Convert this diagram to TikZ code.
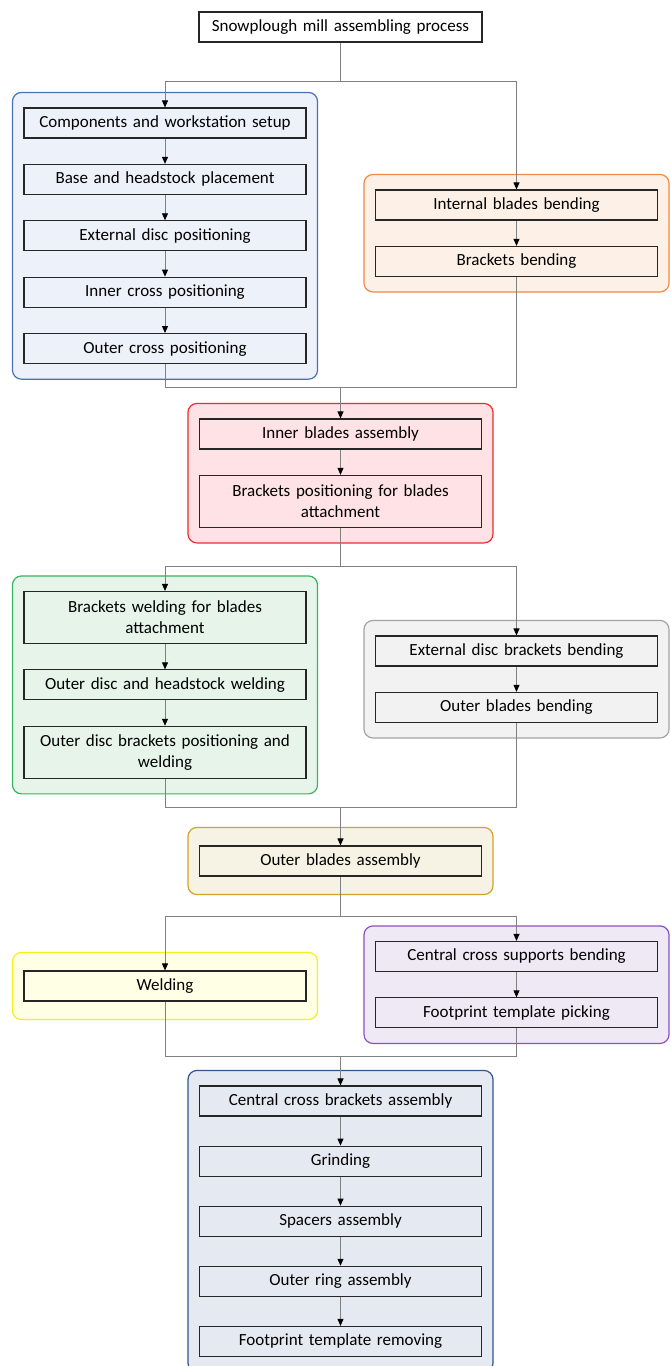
\documentclass[tikz,border=0pt]{standalone}
\usepackage{fontspec}
\setmainfont{Carlito}
\usetikzlibrary{positioning, fit, backgrounds, arrows.meta}
\definecolor{bluedraw}{HTML}{4A6FB5}
\definecolor{bluefill}{HTML}{EDF1FA}
\definecolor{orangedraw}{HTML}{EE8A45}
\definecolor{orangefill}{HTML}{FDF0E6}
\definecolor{reddraw}{HTML}{F02B2B}
\definecolor{redfill}{HTML}{FFE2E5}
\definecolor{greendraw}{HTML}{36B55E}
\definecolor{greenfill}{HTML}{E6F4EA}
\definecolor{greydraw}{HTML}{A3A3A3}
\definecolor{greyfill}{HTML}{F2F2F2}
\definecolor{golddraw}{HTML}{D1A32E}
\definecolor{goldfill}{HTML}{F6F3E4}
\definecolor{yellowdraw}{HTML}{F2F21A}
\definecolor{yellowfill}{HTML}{FFFFE6}
\definecolor{purpledraw}{HTML}{8A52BD}
\definecolor{purplefill}{HTML}{EFE9F6}
\definecolor{navydraw}{HTML}{34548A}
\definecolor{navyfill}{HTML}{E5E9F1}

\begin{document}
\begin{tikzpicture}[x=1pt, y=-1pt,
     node distance = 25.3pt,
        box/.style = {rectangle, draw=black!85, line width=1.1pt, text width=270pt,
                      inner xsep=6pt, inner ysep=4pt, minimum height=30pt, align=center,
                      font=\fontsize{17}{21}\selectfont},
    tallbox/.style = {box, minimum height=52pt},
        grp/.style = {rectangle, rounded corners=9pt, line width=1.2pt,
                      inner xsep=11pt, inner ysep=15pt},
       line/.style = {draw=black!50, line width=0.9pt},
        arr/.style = {line, -{Triangle[length=7pt,width=6pt,color=black]}}
                        ]
\useasboundingbox (0,0) rectangle (670,1366);
% top
\node (title) [box, fill=white, text width=271pt] at (340.5,27) {Snowplough mill assembling process};
% left and right branches
\node (setup)      [box] at (165,123) {Components and workstation setup};
\node (base)       [box, below=of setup] {Base and headstock placement};
\node (extdisc)    [box, below=of base] {External disc positioning};
\node (innercross) [box, below=of extdisc] {Inner cross positioning};
\node (outercross) [box, below=of innercross] {Outer cross positioning};
\node (intbend)    [box] at (516.5,205) {Internal blades bending};
\node (brackbend)  [box, below=of intbend] {Brackets bending};
% inner blades
\node (innerblades) [box] at (340.5,434) {Inner blades assembly};
\node (brackpos)    [tallbox, below=of innerblades] {Brackets positioning for blades\\attachment};
% welding and bending
\node (brackweld)  [tallbox] at (165,617.5) {Brackets welding for blades\\attachment};
\node (headweld)   [box, below=of brackweld] {Outer disc and headstock welding};
\node (discweld)   [tallbox, below=of headweld] {Outer disc brackets positioning and\\welding};
\node (extbrack)   [box] at (516.5,651) {External disc brackets bending};
\node (outbend)    [box, below=of extbrack] {Outer blades bending};
% outer blades
\node (outassy)    [box] at (340.5,861) {Outer blades assembly};
\node (welding)    [box] at (165,986) {Welding};
\node (centsupp)   [box] at (516.5,956.5) {Central cross supports bending};
\node (footpick)   [box, below=of centsupp] {Footprint template picking};
% final assembly
\node (centbrack)  [box] at (340.5,1101) {Central cross brackets assembly};
\node (grinding)   [box, below=29pt of centbrack] {Grinding};
\node (spacers)    [box, below=29pt of grinding] {Spacers assembly};
\node (outring)    [box, below=29pt of spacers] {Outer ring assembly};
\node (footremove) [box, below=29pt of outring] {Footprint template removing};
% groups
\begin{scope}[on background layer]
\node [grp, draw=bluedraw, fill=bluefill, fit=(setup)(outercross)] {};
\node [grp, draw=orangedraw, fill=orangefill, fit=(intbend)(brackbend)] {};
\node [grp, draw=reddraw, fill=redfill, fit=(innerblades)(brackpos)] {};
\node [grp, draw=greendraw, fill=greenfill, fit=(brackweld)(discweld)] {};
\node [grp, draw=greydraw, fill=greyfill, fit=(extbrack)(outbend)] {};
\node [grp, draw=golddraw, fill=goldfill, fit=(outassy), inner ysep=18pt] {};
\node [grp, draw=yellowdraw, fill=yellowfill, fit=(welding), inner ysep=18pt] {};
\node [grp, draw=purpledraw, fill=purplefill, fit=(centsupp)(footpick)] {};
\node [grp, draw=navydraw, fill=navyfill, fit=(centbrack)(footremove)] {};
\end{scope}
% connectors
\coordinate (split1) at (340.5,81);
\coordinate (join1)  at (340.5,387);
\coordinate (split2) at (340.5,566);
\coordinate (join2)  at (340.5,807);
\coordinate (split3) at (340.5,916);
\coordinate (join3)  at (340.5,1056);
\draw[line] (title) -- (split1);
\draw[arr] (split1) -| (setup);
\draw[arr] (split1) -| (intbend);
\draw[line] (outercross) |- (join1);
\draw[line] (brackbend) |- (join1);
\draw[arr] (join1) -- (innerblades);
\draw[line] (brackpos) -- (split2);
\draw[arr] (split2) -| (brackweld);
\draw[arr] (split2) -| (extbrack);
\draw[line] (discweld) |- (join2);
\draw[line] (outbend) |- (join2);
\draw[arr] (join2) -- (outassy);
\draw[line] (outassy) -- (split3);
\draw[arr] (split3) -| (welding);
\draw[arr] (split3) -| (centsupp);
\draw[line] (welding) |- (join3);
\draw[line] (footpick) |- (join3);
\draw[arr] (join3) -- (centbrack);
\foreach \a/\b in {setup/base, base/extdisc, extdisc/innercross, innercross/outercross,
                   intbend/brackbend, innerblades/brackpos, brackweld/headweld,
                   headweld/discweld, extbrack/outbend, centsupp/footpick,
                   centbrack/grinding, grinding/spacers, spacers/outring, outring/footremove}
  \draw[arr] (\a) -- (\b);
\end{tikzpicture}
\end{document}
